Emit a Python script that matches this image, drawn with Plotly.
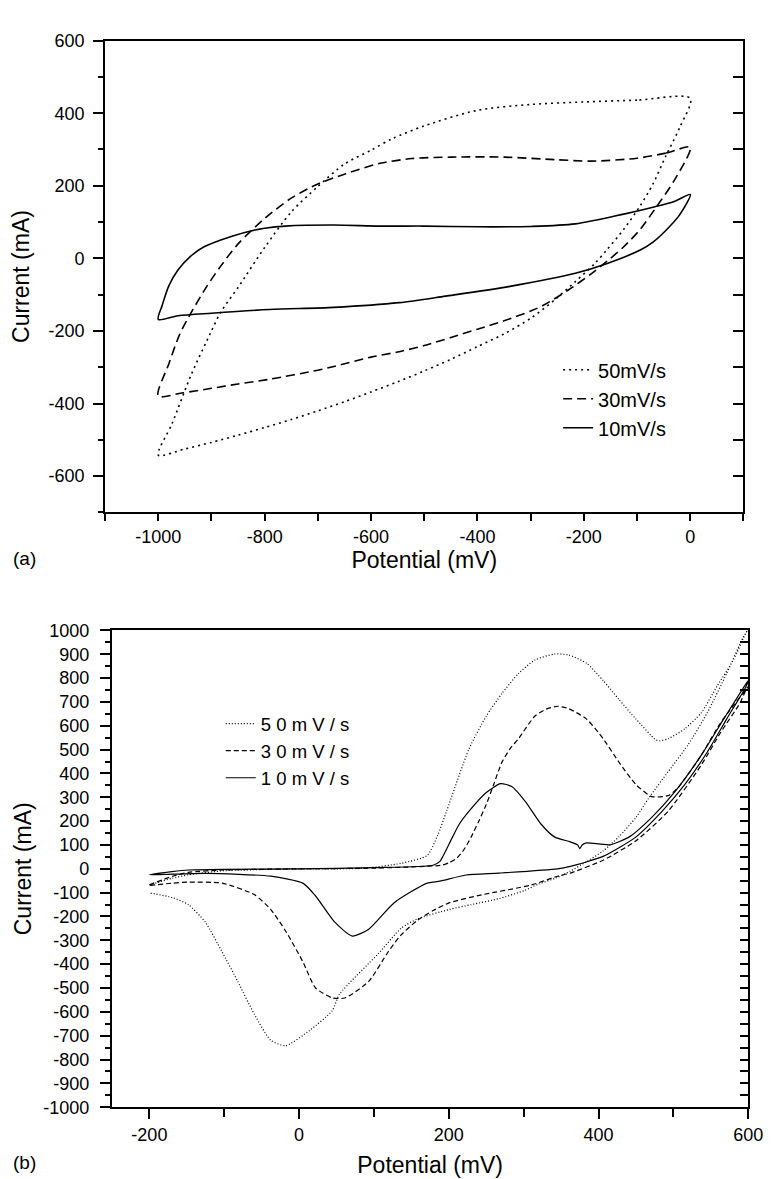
import plotly.graph_objects as go

W, H = 773, 1179

# ---------- Panel (a): CV loops, potential -1000..0 mV ----------
a_labels = ["50mV/s", "30mV/s", "10mV/s"]
a_xticks = [-1000, -800, -600, -400, -200, 0]
a_xticklabels = ["-1000", "-800", "-600", "-400", "-200", "0"]
a_yticks = [-600, -400, -200, 0, 200, 400, 600]
a_yticklabels = ["-600", "-400", "-200", "0", "200", "400", "600"]

a50_x = [0, -100, -200, -300, -400, -500, -560, -600, -650, -700, -750, -800, -850, -883, -900, -938, -974, -1000,
         -950, -900, -850, -800, -750, -700, -650, -600, -550, -500, -450, -400, -350, -300, -253, -216, -180, -156,
         -125, -94, -70, -46, -20, 0]
a50_y = [441, 436, 431, 424, 408, 365, 330, 298, 260, 198, 128, 30, -80, -149, -200, -320, -455, -542,
         -525, -507, -487, -466, -444, -420, -395, -368, -340, -310, -278, -243, -208, -165, -112, -64, -15, 25,
         80, 145, 205, 282, 360, 441]

a30_x = [0, -46, -100, -185, -253, -350, -450, -523, -583, -650, -700, -750, -800, -850, -883, -910, -938, -960, -980, -1000,
         -956, -900, -850, -791, -700, -670, -600, -547, -500, -450, -400, -350, -300, -277, -229, -185, -150, -125,
         -94, -64, -30, 0]
a30_y = [306, 290, 276, 268, 272, 279, 279, 275, 262, 232, 205, 166, 110, 40, -22, -80, -149, -210, -290, -379,
         -371, -358, -346, -333, -308, -298, -272, -257, -240, -218, -195, -172, -145, -130, -87, -41, 0, 32,
         80, 141, 215, 306]

a10_x = [0, -30, -70, -125, -216, -300, -400, -500, -583, -670, -761, -800, -822, -860, -914, -940, -963, -980, -993, -1000,
         -963, -900, -791, -670, -547, -460, -339, -216, -156, -94, -70, -46, -20, 0]
a10_y = [176, 157, 141, 122, 95, 88, 87, 89, 89, 92, 89, 83, 77, 62, 32, 5, -32, -75, -131, -168,
         -158, -151, -141, -135, -122, -104, -77, -41, -14, 23, 45, 77, 120, 176]

# ---------- Panel (b): CV, potential -200..600 mV ----------
b_labels = ["5 0 m V / s", "3 0 m V / s", "1 0 m V / s"]
b_xticks = [-200, 0, 200, 400, 600]
b_xticklabels = ["-200", "0", "200", "400", "600"]
b_yticks = [-1000, -900, -800, -700, -600, -500, -400, -300, -200, -100, 0,
            100, 200, 300, 400, 500, 600, 700, 800, 900, 1000]
b_yticklabels = ["-1000", "-900", "-800", "-700", "-600", "-500", "-400", "-300", "-200", "-100", "0",
                 "100", "200", "300", "400", "500", "600", "700", "800", "900", "1000"]

b50_x = [-200, -170, -148, -100, -50, 0, 84, 136, 171, 185, 197, 227, 250, 271, 293, 315, 341, 360, 384, 406, 427, 450,
         476, 482, 493, 515, 537, 558, 580, 597, 600,
         593, 571, 545, 519, 493, 467, 450, 427, 406, 384, 362, 345, 319, 300, 267, 230, 201, 158, 136, 106, 54, 44, 14,
         -18, -38, -60, -82, -103, -125, -148, -169, -200]
b50_y = [-68, -40, -25, -8, -3, 0, 2, 23, 56, 140, 242, 504, 641, 736, 819, 876, 901, 897, 862, 790, 711, 628,
         542, 537, 546, 587, 654, 765, 876, 991, 1005,
         971, 819, 654, 518, 408, 297, 216, 134, 75, 30, -10, -36, -65, -92, -125, -150, -170, -210, -250, -355, -526, -596, -678,
         -742, -719, -609, -472, -348, -225, -150, -121, -101]

b30_x = [-200, -169, -148, -100, 0, 100, 190, 200, 210, 220, 230, 240, 250, 260, 271, 282, 293, 315, 330, 345, 360, 384,
         406, 427, 450, 471, 493, 506, 537, 563, 600,
         597, 589, 563, 537, 493, 450, 406, 362, 345, 310, 244, 201, 179, 158, 136, 119, 93, 61, 44, 22, 5,
         -17, -38, -60, -103, -148, -169, -200]
b30_y = [-67, -31, -15, -5, 0, 3, 15, 25, 43, 80, 135, 200, 270, 355, 448, 505, 546, 641, 670, 682, 672, 628,
         546, 448, 353, 303, 307, 340, 476, 613, 765,
         752, 696, 572, 435, 242, 118, 36, -18, -31, -68, -109, -142, -175, -216, -278, -348, -472, -542, -541, -500, -390,
         -266, -170, -108, -60, -56, -60, -70]

b10_x = [-200, -170, -148, -100, 0, 100, 179, 188, 192, 205, 214, 227, 250, 269, 284, 302, 323, 341, 362, 372, 375, 378,
         384, 415, 441, 471, 502, 537, 567, 597, 600,
         597, 571, 545, 515, 485, 450, 406, 362, 345, 267, 223, 188, 171, 127, 93, 71, 48, 22, 5, -38, -125, -200]
b10_y = [-25, -12, -5, -2, 0, 5, 15, 31, 52, 134, 188, 242, 320, 357, 345, 283, 188, 134, 113, 100, 85, 100,
         109, 101, 134, 216, 324, 476, 628, 777, 790,
         765, 628, 489, 353, 242, 134, 52, 10, 0, -18, -26, -52, -60, -142, -253, -282, -225, -114, -60, -31, -19, -25]

FONT = "Liberation Sans, Arial, Helvetica, sans-serif"

fig = go.Figure()

a_series = [(a50_x, a50_y, "2px,4px"), (a30_x, a30_y, "9px,5px"), (a10_x, a10_y, "solid")]
for (xs, ys, dash), name in zip(a_series, a_labels):
    fig.add_trace(go.Scatter(x=xs, y=ys, mode="lines", name=name, xaxis="x", yaxis="y",
                             line=dict(color="black", width=1.6, dash=dash, shape="spline", smoothing=0.8),
                             legend="legend"))

b_series = [(b50_x, b50_y, "1px,2px"), (b30_x, b30_y, "5px,3px"), (b10_x, b10_y, "solid")]
for (xs, ys, dash), name in zip(b_series, b_labels):
    fig.add_trace(go.Scatter(x=xs, y=ys, mode="lines", name=name, xaxis="x2", yaxis="y2",
                             line=dict(color="black", width=1.2, dash=dash, shape="spline", smoothing=0.6),
                             legend="legend2"))

# helper traces so that right-hand (inward tick) axes are drawn
fig.add_trace(go.Scatter(x=[], y=[], xaxis="x", yaxis="y3", showlegend=False, hoverinfo="skip"))
fig.add_trace(go.Scatter(x=[], y=[], xaxis="x2", yaxis="y4", showlegend=False, hoverinfo="skip"))

tickfont = dict(family=FONT, size=18, color="black")
titlefont = dict(family=FONT, size=23, color="black")

common = dict(showgrid=False, zeroline=False, showline=True, linewidth=2, linecolor="black",
              mirror=True, tickfont=tickfont, tickcolor="black", tickwidth=1.5, tickmode="array")

a_dom_x = [99 / W, 750 / W]
a_dom_y = [1 - 503 / H, 1 - 23 / H]
b_dom_x = [106 / W, 755 / W]
b_dom_y = [1 - 1108 / H, 1 - 623 / H]


def minor(dt, ln):
    return dict(ticks="outside", tickmode="linear", tick0=0, dtick=dt, ticklen=ln,
                tickwidth=1.5, tickcolor="black")


fig.update_layout(
    width=W, height=H,
    margin=dict(l=0, r=0, t=0, b=0),
    paper_bgcolor="white", plot_bgcolor="white",
    font=dict(family=FONT, color="black"),
    xaxis=dict(domain=a_dom_x, anchor="y", range=[-1100, 100],
               tickvals=a_xticks, ticktext=a_xticklabels,
               ticks="outside", ticklen=7, minor=minor(100, 7),
               title=dict(text="Potential (mV)", font=titlefont, standoff=4), **common),
    yaxis=dict(domain=a_dom_y, anchor="x", range=[-700, 600],
               tickvals=a_yticks, ticktext=a_yticklabels, ticklabelstandoff=5,
               ticks="outside", ticklen=10, minor=minor(100, 5),
               title=dict(text="Current (mA)", font=titlefont, standoff=12), **common),
    yaxis3=dict(overlaying="y", anchor="x", side="right", range=[-700, 600], tick0=0, dtick=100,
                ticks="inside", ticklen=10, tickwidth=1.5, tickcolor="black",
                showticklabels=False, showgrid=False, zeroline=False, showline=False),
    xaxis2=dict(domain=b_dom_x, anchor="y2", range=[-250, 600],
                tickvals=b_xticks, ticktext=b_xticklabels,
                ticks="outside", ticklen=10, minor=minor(100, 8),
                title=dict(text="Potential (mV)", font=titlefont, standoff=13), **common),
    yaxis2=dict(domain=b_dom_y, anchor="x2", range=[-1000, 1000],
                tickvals=b_yticks, ticktext=b_yticklabels, ticklabelstandoff=7,
                ticks="outside", ticklen=10, minor=minor(50, 5),
                title=dict(text="Current (mA)", font=titlefont, standoff=5), **common),
    yaxis4=dict(overlaying="y2", anchor="x2", side="right", range=[-1000, 1000], tick0=0, dtick=50,
                ticks="inside", ticklen=8, tickwidth=1.5, tickcolor="black",
                showticklabels=False, showgrid=False, zeroline=False, showline=False),
    legend=dict(x=561 / W, y=1 - 338 / H, xanchor="left", yanchor="top",
                font=dict(family=FONT, size=20, color="black"), bgcolor="rgba(0,0,0,0)",
                tracegroupgap=0),
    legend2=dict(x=217 / W, y=1 - 699 / H, xanchor="left", yanchor="top",
                 font=dict(family=FONT, size=18.5, color="black"), bgcolor="rgba(0,0,0,0)",
                 tracegroupgap=0),
    annotations=[
        dict(text="(a)", x=3 / W, y=1 - 550 / H, xref="paper", yref="paper", xanchor="left", yanchor="middle",
             showarrow=False, font=dict(family=FONT, size=19, color="black")),
        dict(text="(b)", x=3 / W, y=1 - 1164 / H, xref="paper", yref="paper", xanchor="left", yanchor="middle",
             showarrow=False, font=dict(family=FONT, size=19, color="black")),
    ],
    showlegend=True,
)

fig.write_html("out.html")
